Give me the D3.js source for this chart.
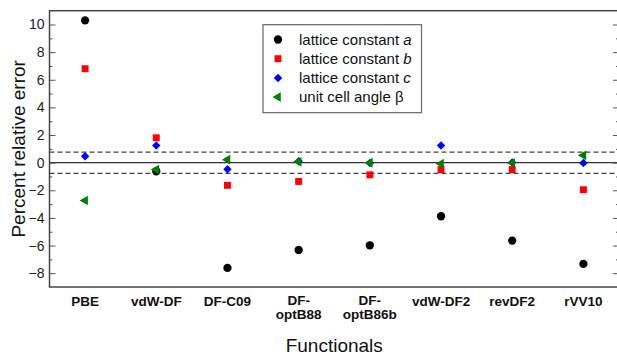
<!DOCTYPE html>
<html>
<head>
<meta charset="utf-8">
<script src="https://cdnjs.cloudflare.com/ajax/libs/d3/7.8.5/d3.min.js"></script>
<style>
  body { margin: 0; background: #fff; }
  svg { display: block; font-family: "Liberation Sans", Arial, sans-serif; }
</style>
</head>
<body>
<div id="chart"></div>
<script>
// functionals on the x axis (two-line labels split by "\n")
const functionals = ["PBE", "vdW-DF", "DF-C09", "DF-\noptB88", "DF-\noptB86b", "vdW-DF2", "revDF2", "rVV10"];

// percent relative error for each functional
const latticeA = [10.3, -0.62, -7.62, -6.32, -5.98, -3.88, -5.64, -7.33];
const latticeB = [6.8, 1.8, -1.64, -1.36, -0.88, -0.5, -0.5, -1.96];
const latticeC = [0.46, 1.24, -0.47, 0.1, -0.02, 1.25, 0.02, -0.02];
const angleBeta = [-2.74, -0.5, 0.22, 0.06, 0.0, -0.07, -0.02, 0.53];

const yMajorTicks = [-8, -6, -4, -2, 0, 2, 4, 6, 8, 10];
const yMinorTicks = [-7, -5, -3, -1, 1, 3, 5, 7, 9];
const toleranceBand = [0.77, -0.78];

const series = [
  { name: "lattice constant ", italic: "a", values: latticeA, shape: "circle", color: "#000000" },
  { name: "lattice constant ", italic: "b", values: latticeB, shape: "square", color: "#ff0000" },
  { name: "lattice constant ", italic: "c", values: latticeC, shape: "diamond", color: "#0000ff" },
  { name: "unit cell angle \u03b2", italic: "", values: angleBeta, shape: "triangle", color: "#008000" }
];

const width = 617, height = 354;
const margin = { top: 10.7, right: -2, bottom: 67, left: 49.5 };
const plotW = width - margin.left - margin.right;
const plotH = height - margin.top - margin.bottom;

const svg = d3.select("#chart").append("svg")
  .attr("width", width)
  .attr("height", height);

const x = d3.scalePoint()
  .domain(functionals)
  .range([0, plotW])
  .padding(0.5);

const y = d3.scaleLinear()
  .domain([-9, 11])
  .range([plotH, 0]);

const g = svg.append("g")
  .attr("transform", `translate(${margin.left},${margin.top})`);

// reference lines
g.append("line")
  .attr("x1", 0).attr("x2", plotW)
  .attr("y1", y(0)).attr("y2", y(0))
  .attr("stroke", "#333").attr("stroke-width", 1.3);

g.selectAll("line.tol")
  .data(toleranceBand)
  .enter().append("line")
    .attr("class", "tol")
    .attr("x1", 0).attr("x2", plotW)
    .attr("y1", d => y(d)).attr("y2", d => y(d))
    .attr("stroke", "#444").attr("stroke-width", 1.3)
    .attr("stroke-dasharray", "5,3");

// axes: left with labels, right mirrored ticks only
const axisL = g.append("g")
  .call(d3.axisLeft(y).tickValues(yMajorTicks).tickSize(-6).tickPadding(5).tickFormat(d3.format("d")));
axisL.selectAll(".tick text")
  .attr("font-size", 14).attr("fill", "#222")
  .attr("font-family", "Liberation Sans, Arial, sans-serif");
axisL.selectAll(".tick line").attr("stroke", "#555");
axisL.select(".domain").remove();

g.append("g")
  .call(d3.axisLeft(y).tickValues(yMinorTicks).tickSize(-3).tickFormat(""))
  .call(a => a.select(".domain").remove())
  .selectAll(".tick line").attr("stroke", "#555");

g.append("g")
  .attr("transform", `translate(${plotW},0)`)
  .call(d3.axisRight(y).tickValues(yMajorTicks).tickSize(-6).tickFormat(""))
  .call(a => a.select(".domain").remove())
  .selectAll(".tick line").attr("stroke", "#555");

g.append("g")
  .attr("transform", `translate(${plotW},0)`)
  .call(d3.axisRight(y).tickValues(yMinorTicks).tickSize(-3).tickFormat(""))
  .call(a => a.select(".domain").remove())
  .selectAll(".tick line").attr("stroke", "#555");

// frame
g.append("rect")
  .attr("width", plotW).attr("height", plotH)
  .attr("fill", "none")
  .attr("stroke", "#444").attr("stroke-width", 1.5);

// category labels
const catLabels = g.selectAll("text.cat")
  .data(functionals)
  .enter().append("text")
    .attr("class", "cat")
    .attr("text-anchor", "middle")
    .attr("font-size", 13.5)
    .attr("font-weight", "bold")
    .attr("fill", "#111")
    .attr("transform", d => `translate(${x(d)},${plotH + (d.includes("\n") ? 18 : 19)})`);

catLabels.each(function (d) {
  let lines = d.split("\n");
  d3.select(this).selectAll("tspan")
    .data(lines)
    .enter().append("tspan")
      .attr("x", 0)
      .attr("dy", (l, i) => i === 0 ? 0 : 13.5)
      .text(l => l);
});

// markers (diamond = square turned 45deg, triangle points left)
function symbolFor(shape, size) {
  let types = {
    circle: d3.symbolCircle,
    square: d3.symbolSquare,
    diamond: d3.symbolSquare,
    triangle: d3.symbolTriangle
  };
  return d3.symbol().type(types[shape]).size(size)();
}
const markerSize = { circle: 54, square: 48, diamond: 36, triangle: 40 };
const markerRotate = { circle: 0, square: 0, diamond: 45, triangle: -90 };

series.forEach(s => {
  g.selectAll(null)
    .data(s.values)
    .enter().append("path")
      .attr("d", symbolFor(s.shape, markerSize[s.shape]))
      .attr("fill", s.color)
      .attr("transform", (d, i) => `translate(${x(functionals[i])},${y(d)}) rotate(${markerRotate[s.shape]})`);
});

// legend
const legend = svg.append("g").attr("transform", "translate(263,24.7)");
legend.append("rect")
  .attr("width", 158.5).attr("height", 88)
  .attr("fill", "#fff")
  .attr("stroke", "#666").attr("stroke-width", 1.2);

const legendItems = legend.selectAll("g.item")
  .data(series)
  .enter().append("g")
    .attr("class", "item")
    .attr("transform", (d, i) => `translate(0,${14.8 + i * 19.2})`);

legendItems.append("path")
  .attr("d", d => symbolFor(d.shape, markerSize[d.shape]))
  .attr("fill", d => d.color)
  .attr("transform", d => `translate(15,0) rotate(${markerRotate[d.shape]})`);

const legendText = legendItems.append("text")
  .attr("x", 36)
  .attr("y", 5.3)
  .attr("font-size", 15)
  .attr("fill", "#111");
legendText.append("tspan").text(d => d.name);
legendText.append("tspan").attr("font-style", "italic").text(d => d.italic);

// axis titles
svg.append("text")
  .attr("text-anchor", "middle")
  .attr("font-size", 19)
  .attr("fill", "#111")
  .attr("transform", `translate(${margin.left + plotW / 2},${height - 2.5})`)
  .text("Functionals");

svg.append("text")
  .attr("text-anchor", "middle")
  .attr("font-size", 19)
  .attr("fill", "#111")
  .attr("transform", `translate(25,${margin.top + plotH / 2}) rotate(-90)`)
  .text("Percent relative error");
</script>
</body>
</html>
